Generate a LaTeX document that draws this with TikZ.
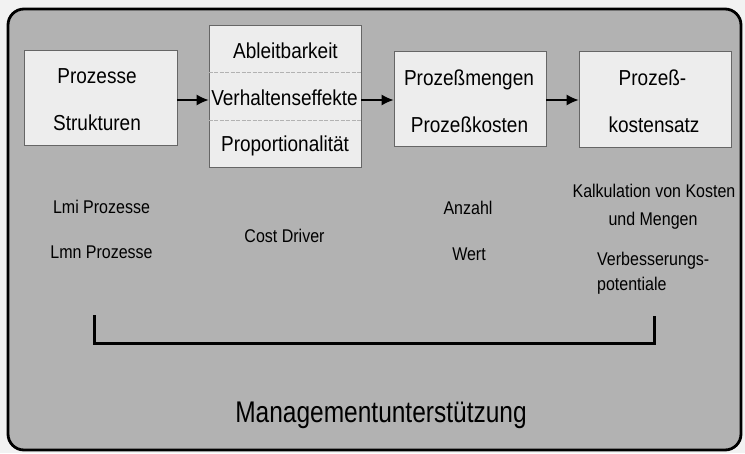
\documentclass[tikz,border=0pt]{standalone}
\usepackage{fontspec}
\setmainfont{Liberation Sans}
\usepackage{graphicx}
\usetikzlibrary{arrows.meta}
\newcommand\vs[2][1.14]{\scalebox{1}[#1]{#2}}
\begin{document}
\begin{tikzpicture}[x=1pt,y=-1pt,
  box/.style={draw=black!60, line width=0.8pt, fill=black!7, inner sep=0pt},
  btxt/.style={font=\fontsize{19}{22}\selectfont, anchor=base, inner sep=0pt},
  ltxt/.style={font=\fontsize{16}{19}\selectfont, anchor=base, inner sep=0pt},
  ttxt/.style={font=\fontsize{24.5}{28}\selectfont, anchor=base, inner sep=0pt},
  divline/.style={draw=black!30, line width=0.6pt, dash pattern=on 4pt off 1.5pt},
  arr/.style={line width=1.3pt, -{Latex[length=12pt,width=11pt]}},
  bracket/.style={line width=3pt, line cap=butt, line join=miter}
  ]
\useasboundingbox (0,0) rectangle (745,453);
\fill[black!5] (0,0) rectangle (745,453);
\draw[line width=2.8pt, rounded corners=16pt, fill=black!30] (8,9) rectangle (741,450);

% boxes
\node[box, minimum width=153pt, minimum height=95pt] (b1) at (100.5,97.5) {};
\node[box, minimum width=152pt, minimum height=142pt] (b2) at (285,96) {};
\node[box, minimum width=152pt, minimum height=95pt] (b3) at (470,98.5) {};
\node[box, minimum width=152pt, minimum height=96pt] (b4) at (655,99) {};

\draw[divline] (b2.west |- 0,72) -- (b2.east |- 0,72);
\draw[divline] (b2.west |- 0,120) -- (b2.east |- 0,120);

% box texts
\node[btxt] (t11) at (97,83) {\vs{Prozesse}};
\node[btxt] (t12) at (97,130) {\vs{Strukturen}};
\node[btxt] (t21) at (285.5,58) {\vs{Ableitbarkeit}};
\node[btxt] (t22) at (284.5,105) {\vs{Verhaltenseffekte}};
\node[btxt] (t23) at (285,151) {\vs{Proportionalität}};
\node[btxt] (t31) at (469,85) {\vs{Prozeßmengen}};
\node[btxt] (t32) at (469.5,132) {\vs{Prozeßkosten}};
\node[btxt] (t41) at (652.5,85) {\vs{Prozeß-}};
\node[btxt] (t42) at (654,132) {\vs{kostensatz}};

% arrows
\draw[arr] (b1.east |- 0,100) -- (b2.west |- 0,100);
\draw[arr] (b2.east |- 0,100) -- (b3.west |- 0,100);
\draw[arr] (b3.east |- 0,100) -- (b4.west |- 0,100);

% lower labels
\node[ltxt] (l1) at (101.5,213) {\vs[1.15]{Lmi Prozesse}};
\node[ltxt] (l2) at (101.5,258) {\vs[1.15]{Lmn Prozesse}};
\node[ltxt] (l3) at (284.5,242) {\vs[1.15]{Cost Driver}};
\node[ltxt] (l4) at (468,214) {\vs[1.15]{Anzahl}};
\node[ltxt] (l5) at (469,260) {\vs[1.15]{Wert}};
\node[ltxt] (l6) at (654,197) {\vs[1.15]{Kalkulation von Kosten}};
\node[ltxt] (l7) at (653,225) {\vs[1.15]{und Mengen}};
\node[ltxt, anchor=base west] (l8) at (597,265) {\vs[1.15]{Verbesserungs-}};
\node[ltxt, anchor=base west] (l9) at (597,290) {\vs[1.15]{potentiale}};

% bracket
\coordinate (brL) at (94,315);
\coordinate (brR) at (654,316);
\draw[bracket] (brL) -- ++(0,28) -| (brR);

% title
\node[ttxt] (title) at (381,422) {\vs[1.22]{Managementunterstützung}};
\end{tikzpicture}
\end{document}
